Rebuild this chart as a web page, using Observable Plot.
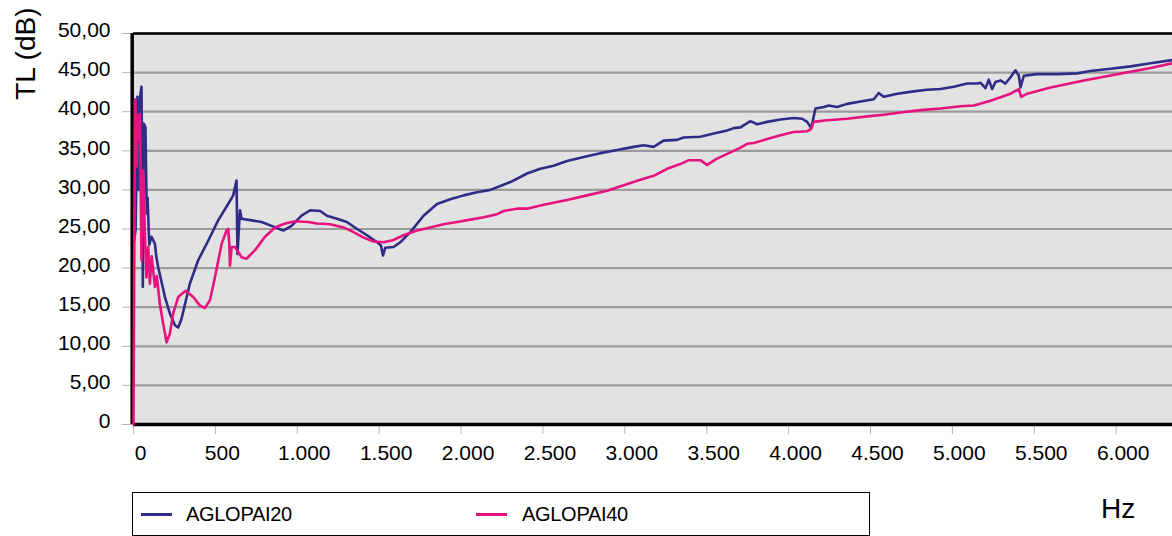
<!DOCTYPE html>
<html>
<head>
<meta charset="utf-8">
<script src="https://cdn.jsdelivr.net/npm/d3@7"></script>
<script src="https://cdn.jsdelivr.net/npm/@observablehq/plot@0.6"></script>
<style>
  html, body { margin: 0; padding: 0; background: #fff; }
  body { width: 1172px; height: 536px; overflow: hidden; font-family: "Liberation Sans", Arial, sans-serif; }
  #chart svg { display: block; overflow: visible; }
  #below { position: relative; width: 1172px; height: 56px; }
  #legend { position: absolute; left: 132px; top: 12px; width: 738px; height: 44px; box-sizing: border-box; border: 1.5px solid #000; }
  .sw { position: absolute; top: 20px; width: 31px; height: 3px; }
  .lt { position: absolute; top: 11px; font-size: 20px; line-height: 20px; color: #000; letter-spacing: -0.3px; }
  #hz { position: absolute; left: 1101px; top: 15px; font-size: 28px; line-height: 28px; color: #000; }
</style>
</head>
<body>
<div id="chart"></div>
<div id="below">
  <div id="legend"></div>
  <div id="hz"></div>
</div>
<script>
// ---- data (frequency in Hz, transmission loss in dB) ----
const seriesNames = ["AGLOPAI20", "AGLOPAI40"];
const seriesColors = ["#2f2c88", "#e6127e"];
const xAxisTitle = "Hz";
const yAxisTitle = "TL (dB)";

const freq20 = [4,13,24,32,41,49,57,62,73,81,
  86,96,110,131,139,151,192,222,253,273,
  293,344,395,456,517,578,609,629,635,650,
  660,721,782,843,914,965,1026,1079,1140,1181,
  1242,1303,1365,1426,1487,1511,1523,1537,1588,1629,
  1690,1771,1853,1934,2016,2097,2179,2240,2301,2321,
  2403,2484,2565,2647,2749,2851,2953,3054,3115,3176,
  3237,3319,3359,3461,3543,3625,3665,3706,3767,3808,
  3869,3950,4031,4083,4113,4138,4164,4215,4245,4296,
  4357,4439,4520,4550,4581,4663,4764,4846,4927,5009,
  5090,5152,5172,5202,5222,5243,5263,5294,5324,5355,
  5385,5406,5416,5436,5518,5640,5762,5843,5966,6088,
  6210,6344];
const tl20 = [23.5,25,41.9,30,42,43.2,17.6,38.5,38,27,
  29,23,24,23.1,21.5,20.1,16.3,14.2,12.7,12.4,
  13.5,18.0,21.0,23.5,26.1,28.2,29.3,31.2,21.8,27.4,
  26.3,26.1,25.9,25.4,24.8,25.4,26.7,27.4,27.3,26.7,
  26.3,25.9,25.0,24.2,23.3,22.9,21.6,22.6,22.7,23.3,
  24.6,26.7,28.2,28.8,29.3,29.7,30.0,30.5,31.0,31.2,
  32.1,32.7,33.1,33.7,34.2,34.7,35.1,35.5,35.7,35.5,
  36.3,36.4,36.7,36.8,37.2,37.6,37.9,38.0,38.8,38.4,
  38.7,39.0,39.2,39.1,38.7,37.9,40.4,40.6,40.8,40.6,
  41.0,41.3,41.6,42.4,41.9,42.3,42.6,42.8,42.9,43.2,
  43.6,43.6,43.7,43.0,44.1,42.9,43.8,44.0,43.6,44.4,
  45.3,44.6,43.1,44.6,44.8,44.8,44.9,45.2,45.5,45.8,
  46.2,46.6];

const freq40 = [0,9,12,20,24,29,39,49,59,70,
  79,90,100,111,120,131,142,161,181,202,
  222,242,273,318,365,406,436,467,497,538,
  568,578,585,589,599,619,660,690,742,803,
  864,925,986,1067,1120,1201,1283,1344,1405,1466,
  1527,1588,1649,1731,1812,1893,1975,2057,2138,2220,
  2260,2342,2403,2504,2647,2769,2892,2993,3095,3176,
  3258,3339,3390,3461,3502,3563,3645,3706,3747,3787,
  3869,3950,4031,4113,4138,4153,4235,4357,4480,4581,
  4683,4805,4927,5049,5131,5233,5355,5406,5420,5457,
  5599,5803,6007,6210,6344];
const tl40 = [0,41.6,41.4,33,39.5,36.7,39.7,21.0,32.5,24.0,
  18.8,22.7,18.0,21.5,19.7,17.6,19,15.4,12.9,10.5,
  11.6,14.2,16.3,17.1,16.3,15.2,14.9,15.9,18.8,23.1,
  24.8,25.0,23.1,20.3,22.7,22.7,21.4,21.2,22.3,24.0,
  25.2,25.7,26.0,25.9,25.7,25.6,25.2,24.6,23.9,23.4,
  23.3,23.6,24.2,24.8,25.2,25.6,25.9,26.2,26.5,26.9,
  27.3,27.6,27.6,28.1,28.7,29.3,29.9,30.6,31.3,31.8,
  32.7,33.3,33.8,33.8,33.2,34.0,34.8,35.4,35.9,36.0,
  36.5,37.0,37.4,37.5,37.8,38.7,38.9,39.1,39.4,39.6,
  39.9,40.2,40.4,40.7,40.8,41.4,42.3,42.9,41.9,42.3,
  43.1,44.0,44.8,45.6,46.2];

const xTicks = [0,500,1000,1500,2000,2500,3000,3500,4000,4500,5000,5500,6000];
const yTicks = [0,5,10,15,20,25,30,35,40,45,50];
const xDomain = [0, 6344];
const yDomain = [0, 50];

// ---- build tables ----
const rows20 = freq20.map((f, i) => ({hz: f, tl: tl20[i]}));
const rows40 = freq40.map((f, i) => ({hz: f, tl: tl40[i]}));

const fmtX = d => d3.format(",")(d).replace(/,/g, ".");
const fmtY = d => d === 0 ? "0" : d.toFixed(2).replace(".", ",");

const chart = Plot.plot({
  width: 1172,
  height: 480,
  marginLeft: 133,
  marginRight: 0,
  marginTop: 33,
  marginBottom: 56,
  style: {fontFamily: "'Liberation Sans', Arial, sans-serif", fontSize: "21px", color: "#000", background: "#fff"},
  x: {domain: xDomain, label: null},
  y: {domain: yDomain, label: null},
  marks: [
    Plot.frame({fill: "#e2e2e2", stroke: null}),
    Plot.ruleY(yTicks, {stroke: "#9b9b9b", strokeWidth: 2.2}),
    // tick marks (gray) and labels (black)
    Plot.axisX(xTicks, {tickSize: 10, tickFormat: () => "", stroke: "#b5b5b5", label: null}),
    Plot.axisX(xTicks, {tickSize: 0, tickPadding: 21, tickFormat: fmtX, dx: 7, fill: "#000", label: null}),
    Plot.axisY(yTicks, {tickSize: 11, tickFormat: () => "", stroke: "#b5b5b5", label: null}),
    Plot.axisY(yTicks, {tickSize: 0, tickPadding: 23, tickFormat: fmtY, dy: -3, fill: "#000", label: null}),
    // plot-area borders
    Plot.ruleY([yDomain[1]], {stroke: "#000", strokeWidth: 2.5}),
    Plot.ruleY([yDomain[0]], {stroke: "#000", strokeWidth: 3.5}),
    Plot.ruleX([xDomain[0]], {stroke: "#000", strokeWidth: 3.5, dx: -1.3}),
    // series
    Plot.line(rows20, {x: "hz", y: "tl", stroke: seriesColors[0], strokeWidth: 2.6, strokeLinejoin: "round"}),
    Plot.line(rows40, {x: "hz", y: "tl", stroke: seriesColors[1], strokeWidth: 2.6, strokeLinejoin: "round"}),
    // y axis title
    Plot.text([yAxisTitle], {frameAnchor: "top-left", text: d => d, rotate: -90, textAnchor: "end", lineAnchor: "middle", dx: -107, dy: -26, fontSize: 28, fill: "#000"})
  ]
});
document.getElementById("chart").appendChild(chart);

// ---- legend (HTML, below the SVG) ----
const legend = document.getElementById("legend");
const legendPos = [{sw: 8, tx: 53}, {sw: 343, tx: 389}];
seriesNames.forEach((name, i) => {
  const sw = document.createElement("div");
  sw.className = "sw";
  sw.style.left = legendPos[i].sw + "px";
  sw.style.background = seriesColors[i];
  legend.appendChild(sw);
  const t = document.createElement("div");
  t.className = "lt";
  t.style.left = legendPos[i].tx + "px";
  t.textContent = name;
  legend.appendChild(t);
});
document.getElementById("hz").textContent = xAxisTitle;
</script>
</body>
</html>
